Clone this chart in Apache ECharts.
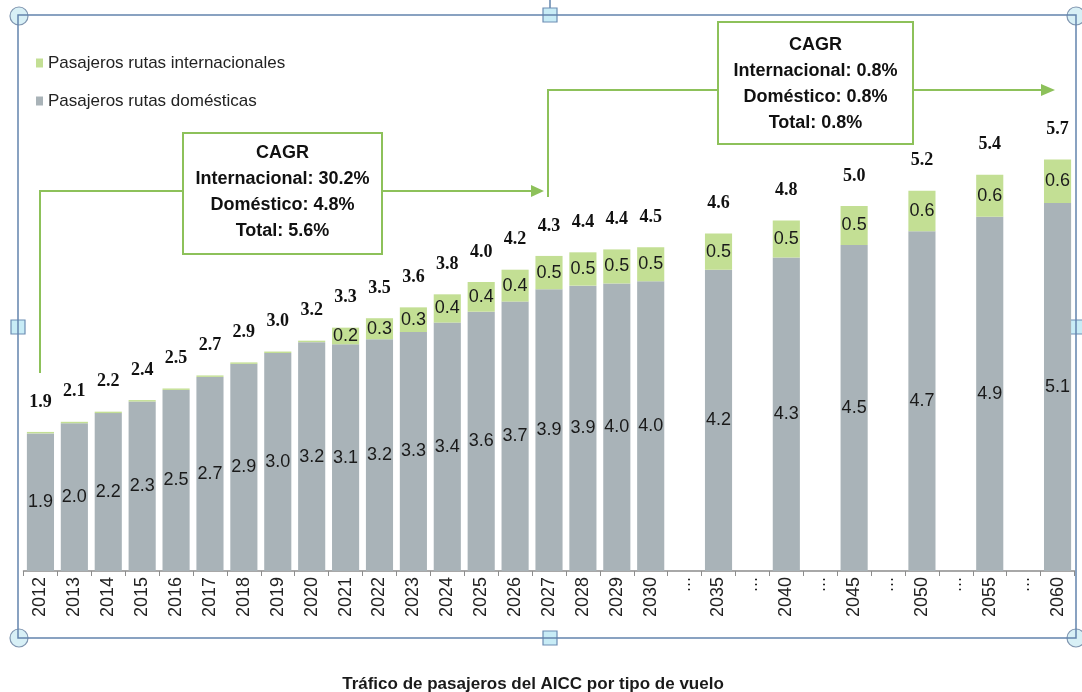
<!DOCTYPE html>
<html>
<head>
<meta charset="utf-8">
<script src="https://cdn.jsdelivr.net/npm/echarts@6/dist/echarts.min.js"></script>
<style>
  html, body { margin: 0; padding: 0; background: #fff; }
  #chart { width: 1082px; height: 692px; }
</style>
</head>
<body>
<div id="chart"></div>
<script>
  // categorias del eje x ('...' = salto de años, sin barra)
  var years = ['2012', '2013', '2014', '2015', '2016', '2017', '2018', '2019', '2020', '2021',
    '2022', '2023', '2024', '2025', '2026', '2027', '2028', '2029', '2030',
    '...', '2035', '...', '2040', '...', '2045', '...', '2050', '...', '2055', '...', '2060'];

  // millones de pasajeros
  var domestico = [1.90, 2.04, 2.18, 2.34, 2.50, 2.68, 2.86, 3.01, 3.16, 3.13,
    3.20, 3.30, 3.43, 3.58, 3.72, 3.89, 3.94, 3.97, 4.00,
    '-', 4.16, '-', 4.33, '-', 4.50, '-', 4.69, '-', 4.89, '-', 5.08];
  var internacional = [0.02, 0.02, 0.02, 0.02, 0.02, 0.02, 0.02, 0.02, 0.02, 0.23,
    0.29, 0.34, 0.39, 0.41, 0.44, 0.46, 0.46, 0.47, 0.47,
    '-', 0.50, '-', 0.51, '-', 0.54, '-', 0.56, '-', 0.58, '-', 0.60];
  var totales = [1.9, 2.1, 2.2, 2.4, 2.5, 2.7, 2.9, 3.0, 3.2, 3.3,
    3.5, 3.6, 3.8, 4.0, 4.2, 4.3, 4.4, 4.4, 4.5,
    '-', 4.6, '-', 4.8, '-', 5.0, '-', 5.2, '-', 5.4, '-', 5.7];

  var chart = echarts.init(document.getElementById('chart'));

  var verde = '#8dc15a';
  var cajaFont = 'bold 18px "Liberation Sans", Arial, sans-serif';

  var option = {
    animation: false,
    backgroundColor: '#fff',
    title: {
      text: 'Tráfico de pasajeros del AICC por tipo de vuelo',
      left: 528, top: 671, textAlign: 'center',
      textStyle: {color: '#1a1a1a', fontSize: 17, fontWeight: 'bold', fontFamily: '"Liberation Sans", Arial, sans-serif'}
    },
    legend: {
      orient: 'vertical',
      left: 31, top: 49,
      itemWidth: 7, itemHeight: 9, itemGap: 20,
      icon: 'rect',
      data: ['Pasajeros rutas internacionales', 'Pasajeros rutas domésticas'],
      textStyle: {color: '#222', fontSize: 17, lineHeight: 18, fontFamily: '"Liberation Sans", Arial, sans-serif'}
    },
    grid: {left: 23.5, right: 7.5, top: 64, bottom: 121},
    xAxis: {
      type: 'category',
      data: years,
      axisLine: {lineStyle: {color: '#8c8c8c', width: 1.5}},
      axisTick: {show: true, length: 5, lineStyle: {color: '#8c8c8c'}},
      axisLabel: {interval: 0, rotate: 90, margin: 6, color: '#222', fontSize: 18,
        fontFamily: '"Liberation Sans", Arial, sans-serif'}
    },
    yAxis: {type: 'value', min: 0, max: 7, show: false, splitLine: {show: false}},
    series: [
      {
        name: 'Pasajeros rutas domésticas',
        type: 'bar', stack: 'pax', barCategoryGap: '20%',
        data: domestico,
        itemStyle: {color: '#a9b3b8'},
        label: {
          show: true, position: 'inside', color: '#1a1a1a', fontSize: 18,
          fontFamily: '"Liberation Sans", Arial, sans-serif',
          formatter: function (p) { return p.value.toFixed(1); }
        }
      },
      {
        name: 'Pasajeros rutas internacionales',
        type: 'bar', stack: 'pax',
        data: internacional,
        itemStyle: {color: '#c3df94'},
        label: {
          show: true, position: 'inside', color: '#1a1a1a', fontSize: 18,
          fontFamily: '"Liberation Sans", Arial, sans-serif',
          formatter: function (p) { return p.value >= 0.1 ? p.value.toFixed(1) : ''; }
        }
      },
      {
        // barra vacia solo para poner el total encima de la pila
        name: 'Total',
        type: 'bar', stack: 'pax',
        data: totales.map(function (t) { return t === '-' ? '-' : 0; }),
        itemStyle: {color: 'rgba(0,0,0,0)'},
        label: {
          show: true, position: 'top', distance: 21, color: '#111', fontSize: 18, fontWeight: 'bold',
          fontFamily: '"Liberation Serif", "Times New Roman", serif',
          formatter: function (p) { return totales[p.dataIndex].toFixed(1); }
        }
      }
    ],
    graphic: [
      // marco de seleccion
      {type: 'rect', z: 1, shape: {x: 18, y: 15, width: 1058, height: 623},
        style: {fill: 'none', stroke: '#6384ad', lineWidth: 1.5}},
      {type: 'line', shape: {x1: 550, y1: 0, x2: 550, y2: 9}, style: {stroke: '#6384ad', lineWidth: 1.5}},
      {type: 'circle', shape: {cx: 19, cy: 16, r: 9}, style: {fill: '#d8f0f6', stroke: '#8096b0', lineWidth: 1.2}},
      {type: 'circle', shape: {cx: 1076, cy: 16, r: 9}, style: {fill: '#d8f0f6', stroke: '#8096b0', lineWidth: 1.2}},
      {type: 'circle', shape: {cx: 19, cy: 638, r: 9}, style: {fill: '#d8f0f6', stroke: '#8096b0', lineWidth: 1.2}},
      {type: 'circle', shape: {cx: 1076, cy: 638, r: 9}, style: {fill: '#d8f0f6', stroke: '#8096b0', lineWidth: 1.2}},
      {type: 'rect', shape: {x: 543, y: 8, width: 14, height: 14}, style: {fill: '#c8ecf6', stroke: '#6d8db3', lineWidth: 1.2}},
      {type: 'rect', shape: {x: 11, y: 320, width: 14, height: 14}, style: {fill: '#c8ecf6', stroke: '#6d8db3', lineWidth: 1.2}},
      {type: 'rect', shape: {x: 1069, y: 320, width: 14, height: 14}, style: {fill: '#c8ecf6', stroke: '#6d8db3', lineWidth: 1.2}},
      {type: 'rect', shape: {x: 543, y: 631, width: 14, height: 14}, style: {fill: '#c8ecf6', stroke: '#6d8db3', lineWidth: 1.2}},

      // conectores CAGR
      {type: 'polyline', shape: {points: [[40, 373], [40, 191], [183, 191]]}, style: {stroke: verde, lineWidth: 2, fill: 'none'}},
      {type: 'line', shape: {x1: 382, y1: 191, x2: 534, y2: 191}, style: {stroke: verde, lineWidth: 2}},
      {type: 'polygon', shape: {points: [[531, 185], [544, 191], [531, 197]]}, style: {fill: verde}},
      {type: 'polyline', shape: {points: [[548, 197], [548, 90], [718, 90]]}, style: {stroke: verde, lineWidth: 2, fill: 'none'}},
      {type: 'line', shape: {x1: 913, y1: 90, x2: 1044, y2: 90}, style: {stroke: verde, lineWidth: 2}},
      {type: 'polygon', shape: {points: [[1041, 84], [1055, 90], [1041, 96]]}, style: {fill: verde}},

      // cajas CAGR
      {type: 'rect', shape: {x: 183, y: 133, width: 199, height: 121}, style: {fill: '#fff', stroke: verde, lineWidth: 2}},
      {type: 'text', x: 282.5, y: 140,
        style: {text: 'CAGR\nInternacional: 30.2%\nDoméstico: 4.8%\nTotal: 5.6%', font: cajaFont,
          fill: '#111', align: 'center', textAlign: 'center', verticalAlign: 'top', lineHeight: 26}},
      {type: 'rect', shape: {x: 718, y: 22, width: 195, height: 122}, style: {fill: '#fff', stroke: verde, lineWidth: 2}},
      {type: 'text', x: 815.5, y: 32,
        style: {text: 'CAGR\nInternacional: 0.8%\nDoméstico: 0.8%\nTotal: 0.8%', font: cajaFont,
          fill: '#111', align: 'center', textAlign: 'center', verticalAlign: 'top', lineHeight: 26}}
    ]
  };

  option && chart.setOption(option);
</script>
</body>
</html>
